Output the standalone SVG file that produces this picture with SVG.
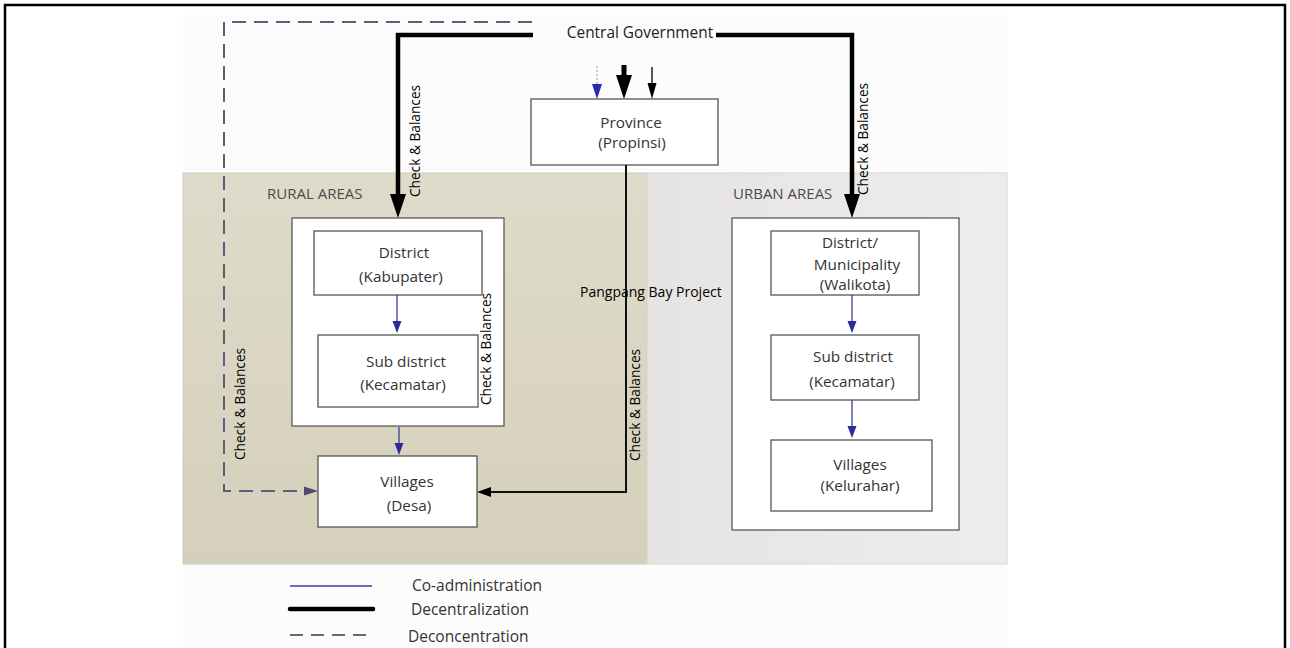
<svg xmlns="http://www.w3.org/2000/svg" width="1290" height="648" viewBox="0 0 1290 648">
  <defs>
    <style>
      .t { font-family: "Open Sans", "Liberation Sans", sans-serif; }
      .box { fill: #ffffff; stroke: #555555; stroke-width: 1.3; }
      .outer { fill: #ffffff; stroke: #5a5a5a; stroke-width: 1.3; }
      .bt { font-family: "Open Sans", "Liberation Sans", sans-serif; font-size: 15.3px; fill: #333333; text-anchor: middle; }
      .cb { font-family: "Open Sans", "Liberation Sans", sans-serif; font-size: 13.7px; fill: #000000; text-anchor: middle; }
      .area { font-family: "Open Sans", "Liberation Sans", sans-serif; font-size: 15px; fill: #4a4a4a; }
      .leg { font-family: "Open Sans", "Liberation Sans", sans-serif; font-size: 15.5px; fill: #333333; }
      .thick { fill: none; stroke: #000000; stroke-width: 4.5; stroke-linejoin: miter; }
      .mid { fill: none; stroke: #111111; stroke-width: 2; }
      .thin { fill: none; stroke: #111111; stroke-width: 1.4; }
      .blue { fill: none; stroke: #3b3ba0; stroke-width: 1.3; }
      .dash { fill: none; stroke: #5c5c7c; stroke-width: 2; stroke-dasharray: 14 8; }
    </style>
    <linearGradient id="ruralFill" x1="0" y1="0" x2="0" y2="1">
      <stop offset="0" stop-color="#dfdbca"/>
      <stop offset="1" stop-color="#d4d0bb"/>
    </linearGradient>
    <linearGradient id="urbanFill" x1="0" y1="0" x2="1" y2="0">
      <stop offset="0" stop-color="#e6e4e2"/>
      <stop offset="1" stop-color="#eeedec"/>
    </linearGradient>
    <marker id="headBig" markerUnits="userSpaceOnUse" markerWidth="24" markerHeight="16" refX="0" refY="8" orient="auto">
      <path d="M0,0 L24,8 L0,16 z" fill="#000000"/>
    </marker>
    <marker id="headMid" markerUnits="userSpaceOnUse" markerWidth="14" markerHeight="10" refX="0" refY="5" orient="auto">
      <path d="M0,0 L14,5 L0,10 z" fill="#000000"/>
    </marker>
    <marker id="headThin" markerUnits="userSpaceOnUse" markerWidth="16" markerHeight="10" refX="0" refY="5" orient="auto">
      <path d="M0,0.5 L16,5 L0,9.5 z" fill="#000000"/>
    </marker>
    <marker id="headBlue" markerUnits="userSpaceOnUse" markerWidth="12" markerHeight="10" refX="0" refY="5" orient="auto">
      <path d="M0,0.5 L12,5 L0,9.5 z" fill="#2b2b9c"/>
    </marker>
    <marker id="headBlueBig" markerUnits="userSpaceOnUse" markerWidth="15" markerHeight="10" refX="0" refY="5" orient="auto">
      <path d="M0,0 L15,5 L0,10 z" fill="#2b2bb0"/>
    </marker>
    <marker id="headDash" markerUnits="userSpaceOnUse" markerWidth="14" markerHeight="10" refX="0" refY="5" orient="auto">
      <path d="M0,0.5 L14,5 L0,9.5 z" fill="#4b4b6e"/>
    </marker>
  </defs>

  <!-- page -->
  <rect x="0" y="0" width="1290" height="648" fill="#ffffff"/>
  <rect x="183" y="15" width="824" height="633" fill="#fcfcfc"/>
  <rect x="5" y="5" width="1280" height="660" fill="none" stroke="#000000" stroke-width="2.5"/>

  <!-- areas -->
  <g id="rural-area">
    <rect x="183" y="173" width="464" height="391" fill="url(#ruralFill)" stroke="#cfccbf" stroke-width="1"/>
    <text class="area" x="267" y="199">RURAL AREAS</text>
  </g>
  <g id="urban-area">
    <rect x="647" y="173" width="360" height="391" fill="url(#urbanFill)" stroke="#d6d4d2" stroke-width="1"/>
    <text class="area" x="733" y="199">URBAN AREAS</text>
  </g>

  <!-- nodes -->
  <g id="central-government">
    <text class="t" x="640" y="38" font-size="15.4" fill="#222222" text-anchor="middle">Central Government</text>
  </g>
  <g id="province">
    <rect class="box" x="531" y="99" width="187" height="66"/>
    <text class="bt" x="631" y="128">Province</text>
    <text class="bt" x="632" y="148">(Propinsi)</text>
  </g>

  <g id="rural-local">
    <rect class="outer" x="292" y="218" width="212" height="208"/>
  </g>
  <g id="rural-district">
    <rect class="box" x="314" y="231" width="168" height="64"/>
    <text class="bt" x="404" y="258">District</text>
    <text class="bt" x="401" y="282">(Kabupater)</text>
  </g>
  <g id="rural-subdistrict">
    <rect class="box" x="318" y="335" width="160" height="72"/>
    <text class="bt" x="406" y="367">Sub district</text>
    <text class="bt" x="403" y="390">(Kecamatar)</text>
  </g>
  <g id="rural-villages">
    <rect class="box" x="318" y="456" width="159" height="71"/>
    <text class="bt" x="407" y="487">Villages</text>
    <text class="bt" x="409" y="511">(Desa)</text>
  </g>

  <g id="urban-local">
    <rect class="outer" x="732" y="218" width="227" height="312"/>
  </g>
  <g id="urban-district">
    <rect class="box" x="771" y="231" width="148" height="64"/>
    <text class="bt" x="850" y="248">District/</text>
    <text class="bt" x="857" y="270">Municipality</text>
    <text class="bt" x="855" y="290">(Walikota)</text>
  </g>
  <g id="urban-subdistrict">
    <rect class="box" x="771" y="335" width="148" height="65"/>
    <text class="bt" x="853" y="362">Sub district</text>
    <text class="bt" x="852" y="387">(Kecamatar)</text>
  </g>
  <g id="urban-villages">
    <rect class="box" x="771" y="440" width="161" height="71"/>
    <text class="bt" x="860" y="470">Villages</text>
    <text class="bt" x="860" y="491">(Kelurahar)</text>
  </g>

  <!-- connectors -->
  <g id="connectors">
    <path class="dash" d="M532,22 H224 V491 H304" marker-end="url(#headDash)"/>
    <path class="thick" d="M533,35 H398 V194" marker-end="url(#headBig)"/>
    <path class="thick" d="M716,35 H852 V194" marker-end="url(#headBig)"/>
    <path d="M597,66 V84" fill="none" stroke="#9090b0" stroke-width="1" stroke-dasharray="2 2" marker-end="url(#headBlueBig)"/>
    <path d="M624,65 V75" fill="none" stroke="#000000" stroke-width="5" marker-end="url(#headBig)"/>
    <path class="thin" d="M652,67 V83" marker-end="url(#headThin)"/>
    <path class="mid" d="M626,165 V492 H491" marker-end="url(#headMid)"/>
    <path class="blue" d="M397,295 V321" marker-end="url(#headBlue)"/>
    <path class="blue" d="M399,427 V443" marker-end="url(#headBlue)"/>
    <path class="blue" d="M852,295 V321" marker-end="url(#headBlue)"/>
    <path class="blue" d="M852,400 V426" marker-end="url(#headBlue)"/>
  </g>

  <!-- connector labels -->
  <g id="connector-labels">
    <text class="cb" transform="translate(420,141) rotate(-90)">Check &amp; Balances</text>
    <text class="cb" transform="translate(868,139) rotate(-90)">Check &amp; Balances</text>
    <text class="cb" transform="translate(491,349) rotate(-90)">Check &amp; Balances</text>
    <text class="cb" transform="translate(245,404) rotate(-90)">Check &amp; Balances</text>
    <text class="cb" transform="translate(640,405) rotate(-90)">Check &amp; Balances</text>
    <text class="t" x="580" y="297" font-size="14" fill="#000000">Pangpang Bay Project</text>
  </g>

  <!-- legend -->
  <g id="legend">
    <line x1="290" y1="586" x2="372" y2="586" stroke="#3b3ba8" stroke-width="1.5"/>
    <line x1="290" y1="609" x2="373" y2="609" stroke="#000000" stroke-width="4.5" stroke-linecap="round"/>
    <line x1="290" y1="635" x2="372" y2="635" stroke="#66667a" stroke-width="2" stroke-dasharray="13 8"/>
    <text class="leg" x="412" y="591">Co-administration</text>
    <text class="leg" x="411" y="615">Decentralization</text>
    <text class="leg" x="408" y="642">Deconcentration</text>
  </g>
</svg>
